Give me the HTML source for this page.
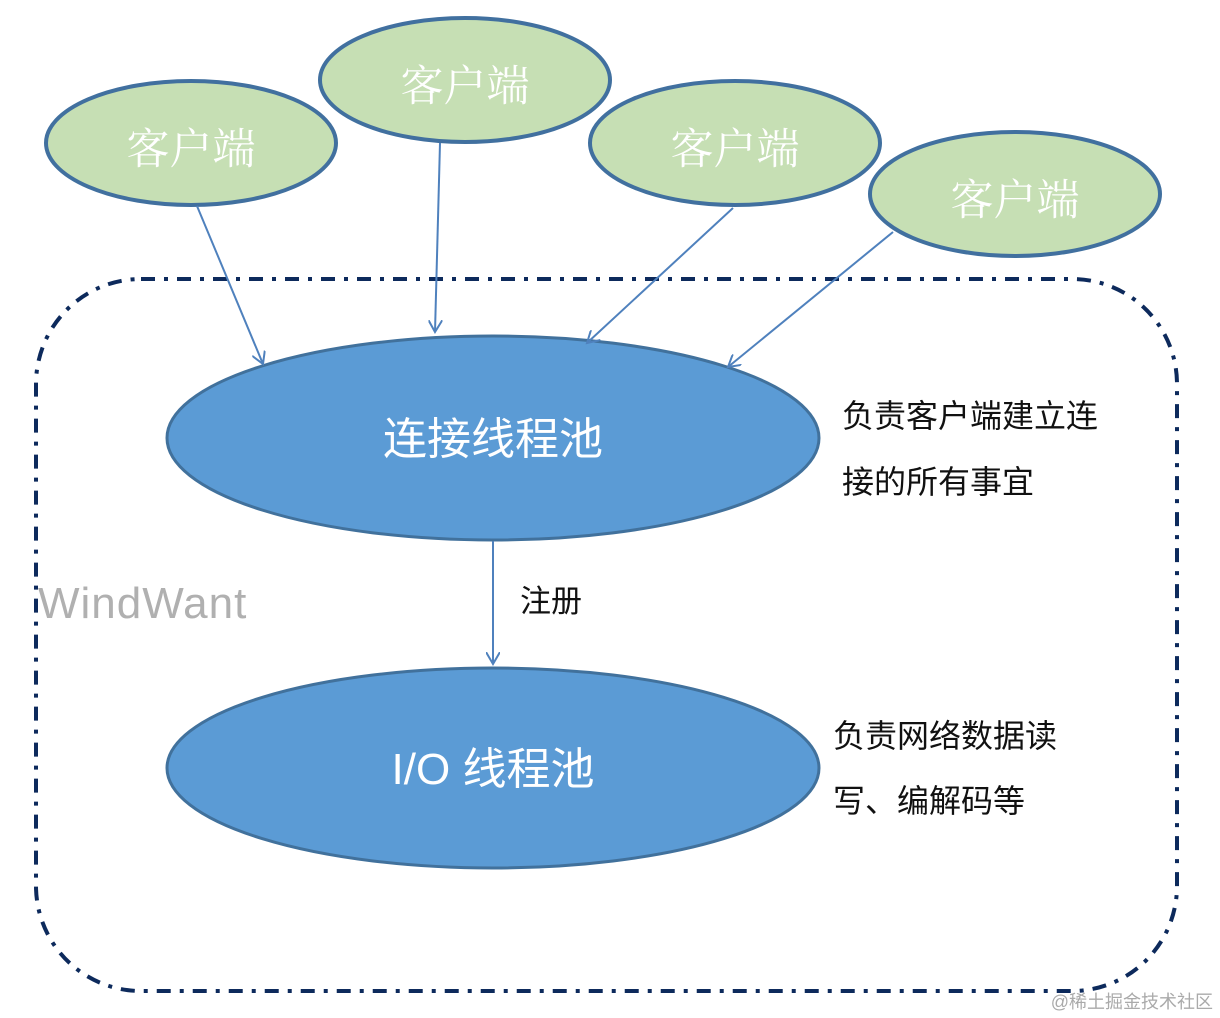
<!DOCTYPE html>
<html><head><meta charset="utf-8"><style>
html,body{margin:0;padding:0;background:#fff;}
body{width:1220px;height:1018px;overflow:hidden;position:relative;font-family:"Liberation Sans","Noto Sans CJK SC",sans-serif;}
</style></head><body>
<svg width="1220" height="1018" style="position:absolute;left:0;top:0" font-family="'Liberation Sans','Noto Sans CJK SC',sans-serif">
<defs>
<marker id="a" markerWidth="14" markerHeight="14" refX="12" refY="7" orient="auto" markerUnits="userSpaceOnUse">
<path d="M0,0 L12,7 L0,14" fill="none" stroke="#4f81bd" stroke-width="2"/>
</marker>
</defs>
<rect x="36" y="279" width="1141" height="712" rx="105" ry="105" fill="none" stroke="#0d2a5c" stroke-width="4" stroke-dasharray="14 9 4 9"/>
<g fill="#c6dfb4" stroke="#41709f" stroke-width="4">
<ellipse cx="191" cy="143" rx="145" ry="62"/>
<ellipse cx="465" cy="80" rx="145" ry="62"/>
<ellipse cx="735" cy="143" rx="145" ry="62"/>
<ellipse cx="1015" cy="194" rx="145" ry="62"/>
</g>
<g fill="#fff" font-size="43" text-anchor="middle" font-family="'Liberation Serif','Noto Serif CJK SC',serif">
<text x="191" y="164">客户端</text>
<text x="465" y="101">客户端</text>
<text x="735" y="164">客户端</text>
<text x="1015" y="215">客户端</text>
</g>
<g fill="#5b9bd5" stroke="#41719c" stroke-width="3">
<ellipse cx="493" cy="438" rx="326" ry="102"/>
<ellipse cx="493" cy="768" rx="326" ry="100"/>
</g>
<g stroke="#4f81bd" stroke-width="2" fill="none" marker-end="url(#a)">
<line x1="197" y1="206" x2="263" y2="364"/>
<line x1="440" y1="143" x2="435" y2="332"/>
<line x1="733" y1="208" x2="587" y2="343"/>
<line x1="893" y1="232" x2="728" y2="367"/>
<line x1="493" y1="541" x2="493" y2="664"/>
</g>
<g fill="#fff" font-size="44" text-anchor="middle">
<text x="493" y="454">连接线程池</text>
<text x="493" y="784">I/O 线程池</text>
</g>
<g fill="#111" font-size="32">
<text x="842" y="427">负责客户端建立连</text>
<text x="842" y="493">接的所有事宜</text>
<text x="833" y="747">负责网络数据读</text>
<text x="833" y="812">写、编解码等</text>
</g>
<text x="520" y="612" font-size="31" fill="#111">注册</text>
<text x="38" y="618" font-size="44" fill="#b0b0b0" letter-spacing="1">WindWant</text>
<text x="1213" y="1008" font-size="18" fill="#aaa" text-anchor="end">@稀土掘金技术社区</text>
</svg>
</body></html>
